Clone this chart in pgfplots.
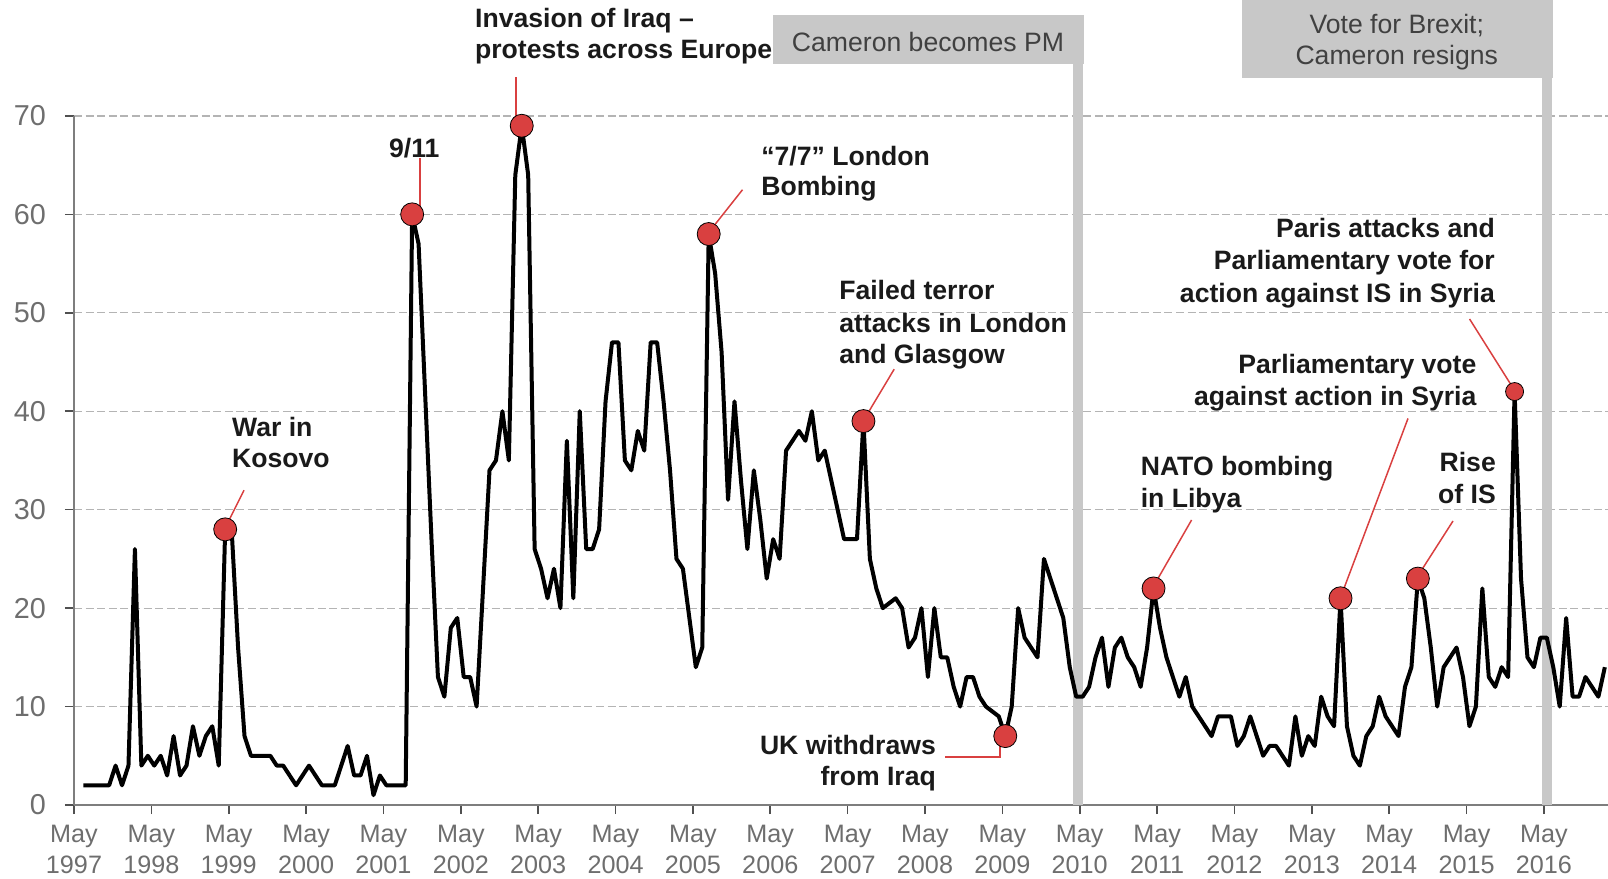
\documentclass[border=0pt]{standalone}
\usepackage{fontspec}
\setmainfont{Liberation Sans}
\usepackage{pgfplots}
\pgfplotsset{compat=1.18}
\usepackage{pgfplotstable}

\definecolor{evred}{HTML}{D94040}
\definecolor{boxgray}{HTML}{C8C8C8}
\definecolor{axgray}{HTML}{7E7E7E}
\definecolor{tickgray}{HTML}{505050}
\definecolor{gridgray}{HTML}{B4B4B4}
\definecolor{ticktext}{HTML}{6E6E6E}
\definecolor{boxtext}{HTML}{404040}
\definecolor{antext}{HTML}{1A1A1A}

% monthly values, m = months since May 1997
\pgfplotstableread{
m v
1 2
2 2
3 2
4 2
5 2
6 4
7 2
8 4
9 26
10 4
11 5
12 4
13 5
14 3
15 7
16 3
17 4
18 8
19 5
20 7
21 8
22 4
23 28
24 28
25 16
26 7
27 5
28 5
29 5
30 5
31 4
32 4
33 3
34 2
35 3
36 4
37 3
38 2
39 2
40 2
41 4
42 6
43 3
44 3
45 5
46 1
47 3
48 2
49 2
50 2
51 2
52 60
53 57
54 42
55 27
56 13
57 11
58 18
59 19
60 13
61 13
62 10
63 22
64 34
65 35
66 40
67 35
68 64
69 69
70 64
71 26
72 24
73 21
74 24
75 20
76 37
77 21
78 40
79 26
80 26
81 28
82 41
83 47
84 47
85 35
86 34
87 38
88 36
89 47
90 47
91 41
92 34
93 25
94 24
95 19
96 14
97 16
98 58
99 54
100 46
101 31
102 41
103 33
104 26
105 34
106 29
107 23
108 27
109 25
110 36
111 37
112 38
113 37
114 40
115 35
116 36
117 33
118 30
119 27
120 27
121 27
122 39
123 25
124 22
125 20
126 20.5
127 21
128 20
129 16
130 17
131 20
132 13
133 20
134 15
135 15
136 12
137 10
138 13
139 13
140 11
141 10
142 9.5
143 9
144 7
145 10
146 20
147 17
148 16
149 15
150 25
151 23
152 21
153 19
154 14
155 11
156 11
157 12
158 15
159 17
160 12
161 16
162 17
163 15
164 14
165 12
166 16
167 22
168 18
169 15
170 13
171 11
172 13
173 10
174 9
175 8
176 7
177 9
178 9
179 9
180 6
181 7
182 9
183 7
184 5
185 6
186 6
187 5
188 4
189 9
190 5
191 7
192 6
193 11
194 9
195 8
196 21
197 8
198 5
199 4
200 7
201 8
202 11
203 9
204 8
205 7
206 12
207 14
208 23
209 21
210 16
211 10
212 14
213 15
214 16
215 13
216 8
217 10
218 22
219 13
220 12
221 14
222 13
223 42
224 23
225 15
226 14
227 17
228 17
229 14
230 10
231 19
232 11
233 11
234 13
235 12
236 11
237 14
}\mentions

% highlighted events
\pgfplotstableread{
m v
23 28
52 60
69 69
98 58
122 39
144 7
167 22
196 21
208 23
}\events

\pgfplotstableread{
m v
223 42
}\paris

\begin{document}
\begin{tikzpicture}[
    ann/.style={font=\bfseries\fontsize{13.3}{15.75}\selectfont, text=antext, inner sep=0pt},
    boxtxt/.style={font=\fontsize{13.3}{15.75}\selectfont, text=boxtext, inner sep=0pt},
    lead/.style={draw=evred, line width=0.75pt},
]
\begin{axis}[
    scale only axis,
    width=767pt, height=344.55pt,
    xmin=0, xmax=237.94, ymin=0, ymax=70,
    axis x line=bottom, axis y line=left,
    axis line style={draw=axgray, line width=0.8pt, -},
    x axis line style={-}, y axis line style={-},
    xtick pos=bottom, ytick pos=left,
    xtick={0,12,...,228},
    xticklabels={May\\1997,May\\1998,May\\1999,May\\2000,May\\2001,May\\2002,May\\2003,May\\2004,May\\2005,May\\2006,May\\2007,May\\2008,May\\2009,May\\2010,May\\2011,May\\2012,May\\2013,May\\2014,May\\2015,May\\2016},
    ytick={0,10,...,70},
    tick align=outside,
    major tick length=4.5pt,
    tick style={draw=tickgray, line width=0.8pt},
    ymajorgrids,
    grid style={draw=gridgray, line width=0.6pt, dash pattern=on 4pt off 1.8pt},
    x tick label style={align=center, font=\fontsize{12.6}{15.3}\selectfont, text=ticktext, yshift=-2.2pt},
    y tick label style={font=\fontsize{14.4}{16}\selectfont, text=ticktext, xshift=-6pt},
    /pgf/number format/assume math mode=true,
    clip=false,
]
% event bars
\addplot[boxgray, line width=5pt, forget plot] coordinates {(155.78,0) (155.78,75.4)};
\addplot[boxgray, line width=5pt, forget plot] coordinates {(228.48,0) (228.48,73.9)};
\fill[boxgray] (axis cs:108.47,75.31) rectangle (axis cs:156.66,80.25);
\fill[boxgray] (axis cs:181.12,73.82) rectangle (axis cs:229.41,81.78);
\node[boxtxt, anchor=base] at (axis cs:132.46,76.5) {Cameron becomes PM};
\node[boxtxt, anchor=base] at (axis cs:205.18,78.35) {Vote for Brexit;};
\node[boxtxt, anchor=base] at (axis cs:205.18,75.2) {Cameron resigns};

% main series
\addplot[black, line width=2pt, line join=round, mark=none] table[x expr=\thisrow{m}+0.45, y=v] {\mentions};

% leader lines
\draw[lead] (axis cs:23.36,28.02) -- (axis cs:26.37,31.98);
\draw[lead] (axis cs:53.67,60) -- (axis cs:53.67,65.7);
\draw[lead] (axis cs:68.56,69) -- (axis cs:68.56,73.95);
\draw[lead] (axis cs:98.28,58.02) -- (axis cs:103.69,62.5);
\draw[lead] (axis cs:122.46,39.06) -- (axis cs:127.22,44.27);
\draw[lead] (axis cs:143.63,7) -- (axis cs:143.63,4.9) -- (axis cs:135.1,4.9);
\draw[lead] (axis cs:167.32,22.08) -- (axis cs:173.35,28.95);
\draw[lead] (axis cs:196.43,21.04) -- (axis cs:206.92,39.27);
\draw[lead] (axis cs:208.2,23.02) -- (axis cs:213.9,28.85);
\draw[lead] (axis cs:223.47,42.09) -- (axis cs:216.47,49.37);

% event dots
\addplot[only marks, mark=*, mark size=5.75pt, mark options={fill=evred, draw=none}] table[x expr=\thisrow{m}+0.45, y=v] {\events};
\addplot[only marks, mark=*, mark size=4.5pt, mark options={fill=evred, draw=none}] table[x expr=\thisrow{m}+0.45, y=v] {\paris};

% annotations
\node[ann, anchor=base west] at (axis cs:24.47,37.48) {War in};
\node[ann, anchor=base west] at (axis cs:24.47,34.27) {Kosovo};
\node[ann, anchor=base] at (axis cs:52.78,65.8) {9/11};
\node[ann, anchor=base west] at (axis cs:62.16,78.95) {Invasion of Iraq –};
\node[ann, anchor=base west] at (axis cs:62.16,75.8) {protests across Europe};
\node[ann, anchor=base west] at (axis cs:106.55,65.01) {“7/7” London};
\node[ann, anchor=base west] at (axis cs:106.55,61.87) {Bombing};
\node[ann, anchor=base west] at (axis cs:118.64,51.35) {Failed terror};
\node[ann, anchor=base west] at (axis cs:118.64,48.02) {attacks in London};
\node[ann, anchor=base west] at (axis cs:118.64,44.80) {and Glasgow};
\node[ann, anchor=base east] at (axis cs:133.75,5.10) {UK withdraws};
\node[ann, anchor=base east] at (axis cs:133.75,1.98) {from Iraq};
\node[ann, anchor=base west] at (axis cs:165.41,33.44) {NATO bombing};
\node[ann, anchor=base west] at (axis cs:165.41,30.21) {in Libya};
\node[ann, anchor=base east] at (axis cs:217.59,43.85) {Parliamentary vote};
\node[ann, anchor=base east] at (axis cs:217.59,40.63) {against action in Syria};
\node[ann, anchor=base east] at (axis cs:220.6,33.86) {Rise};
\node[ann, anchor=base east] at (axis cs:220.6,30.63) {of IS};
\node[ann, anchor=base east] at (axis cs:220.45,57.60) {Paris attacks and};
\node[ann, anchor=base east] at (axis cs:220.45,54.38) {Parliamentary vote for};
\node[ann, anchor=base east] at (axis cs:220.45,51.05) {action against IS in Syria};
\end{axis}
\pgfresetboundingbox
\path[use as bounding box] (-37pt,-37pt) rectangle (767pt,402.5pt);
\end{tikzpicture}
\end{document}
